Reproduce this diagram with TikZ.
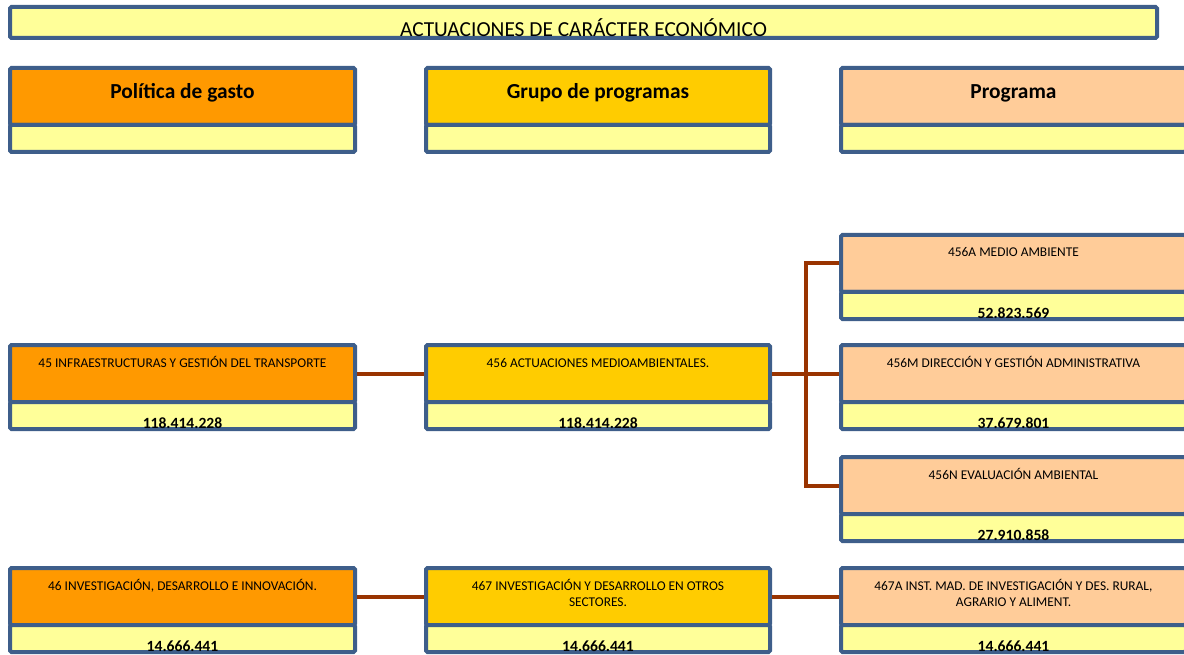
\documentclass[tikz,border=0pt]{standalone}
\usepackage{fontspec}
\setmainfont{Carlito}
\definecolor{bordc}{RGB}{62,94,138}
\definecolor{lyel}{RGB}{255,255,153}
\definecolor{corange}{RGB}{255,153,0}
\definecolor{cgold}{RGB}{255,204,0}
\definecolor{cpeach}{RGB}{255,204,153}
\definecolor{conn}{RGB}{153,51,0}
\begin{document}
\begin{tikzpicture}[x=1pt,y=-1pt,
  bord/.style={draw=bordc, line width=4pt, rounded corners=1.5pt, inner sep=0pt, outer sep=0pt, anchor=north west},
  uppart/.style={bord, minimum height=57pt},
  lowpart/.style={bord, fill=lyel, minimum height=27pt},
  colA/.style={minimum width=345pt},
  colB/.style={minimum width=344pt},
  colC/.style={minimum width=345pt},
  lbl/.style={font=\fontsize{13.4}{16}\selectfont, align=center, anchor=base, inner sep=0pt},
  num/.style={font=\bfseries\fontsize{15.6}{18}\selectfont, anchor=base, inner sep=0pt},
  hd/.style={font=\bfseries\fontsize{21.4}{24}\selectfont, anchor=base, inner sep=0pt},
  link/.style={draw=conn, line width=4pt, shorten <=2pt, shorten >=2pt}
]
\useasboundingbox (0,0) rectangle (1184,655);
\clip (0,0) rectangle (1184,655);

% title
\node[bord, fill=lyel, minimum width=1147pt, minimum height=31pt] (title) at (10,7) {};
\node[font=\fontsize{21.4}{24}\selectfont, anchor=base, inner sep=0pt] at ([yshift=1pt]title.south) {ACTUACIONES DE CARÁCTER ECONÓMICO};

% headers
\node[uppart, colA, fill=corange] (hA) at (10,68) {};
\node[lowpart, colA] (hAv) at (hA.south west) {};
\node[hd] at ([yshift=-31pt]hA.north) {Política de gasto};
\node[uppart, colB, fill=cgold] (hB) at (426,68) {};
\node[lowpart, colB] (hBv) at (hB.south west) {};
\node[hd] at ([yshift=-31pt]hB.north) {Grupo de programas};
\node[uppart, colC, fill=cpeach] (hC) at (841,68) {};
\node[lowpart, colC] (hCv) at (hC.south west) {};
\node[hd] at ([yshift=-31pt]hC.north) {Programa};

% row 456A
\node[uppart, colC, fill=cpeach] (pA) at (841,235) {};
\node[lowpart, colC] (pAv) at (pA.south west) {};
\node[lbl] at ([yshift=-22pt]pA.north) {456A MEDIO AMBIENTE};
\node[num] at ([yshift=1pt]pAv.south) {52.823.569};

% row 45 / 456 / 456M
\node[uppart, colA, fill=corange] (p45) at (10,345) {};
\node[lowpart, colA] (p45v) at (p45.south west) {};
\node[lbl] at ([yshift=-22pt]p45.north) {45 INFRAESTRUCTURAS Y GESTIÓN DEL TRANSPORTE};
\node[num] at ([yshift=1pt]p45v.south) {118.414.228};

\node[uppart, colB, fill=cgold] (g456) at (426,345) {};
\node[lowpart, colB] (g456v) at (g456.south west) {};
\node[lbl] at ([yshift=-22pt]g456.north) {456 ACTUACIONES MEDIOAMBIENTALES.};
\node[num] at ([yshift=1pt]g456v.south) {118.414.228};

\node[uppart, colC, fill=cpeach] (pM) at (841,345) {};
\node[lowpart, colC] (pMv) at (pM.south west) {};
\node[lbl] at ([yshift=-22pt]pM.north) {456M DIRECCIÓN Y GESTIÓN ADMINISTRATIVA};
\node[num] at ([yshift=1pt]pMv.south) {37.679.801};

% row 456N
\node[uppart, colC, fill=cpeach] (pN) at (841,457) {};
\node[lowpart, colC] (pNv) at (pN.south west) {};
\node[lbl] at ([yshift=-22pt]pN.north) {456N EVALUACIÓN AMBIENTAL};
\node[num] at ([yshift=1pt]pNv.south) {27.910.858};

% row 46 / 467 / 467A
\node[uppart, colA, fill=corange] (p46) at (10,568) {};
\node[lowpart, colA] (p46v) at (p46.south west) {};
\node[lbl] at ([yshift=-22pt]p46.north) {46 INVESTIGACIÓN, DESARROLLO E INNOVACIÓN.};
\node[num] at ([yshift=1pt]p46v.south) {14.666.441};

\node[uppart, colB, fill=cgold] (g467) at (426,568) {};
\node[lowpart, colB] (g467v) at (g467.south west) {};
\node[lbl] at ([yshift=-38pt]g467.north) {467 INVESTIGACIÓN Y DESARROLLO EN OTROS\\SECTORES.};
\node[num] at ([yshift=1pt]g467v.south) {14.666.441};

\node[uppart, colC, fill=cpeach] (p467A) at (841,568) {};
\node[lowpart, colC] (p467Av) at (p467A.south west) {};
\node[lbl] at ([yshift=-38pt]p467A.north) {467A INST. MAD. DE INVESTIGACIÓN Y DES. RURAL,\\AGRARIO Y ALIMENT.};
\node[num] at ([yshift=1pt]p467Av.south) {14.666.441};

% connectors
\coordinate (bus) at (806,374);
\draw[link] (p45.east) -- (g456.west);
\draw[link] (g456.east) -- (pM.west);
\draw[link, shorten >=0pt] (pA.west) -| (bus);
\draw[link, shorten <=0pt] (bus) |- (pN.west);
\draw[link] (p46.east) -- (g467.west);
\draw[link] (g467.east) -- (p467A.west);
\end{tikzpicture}
\end{document}
